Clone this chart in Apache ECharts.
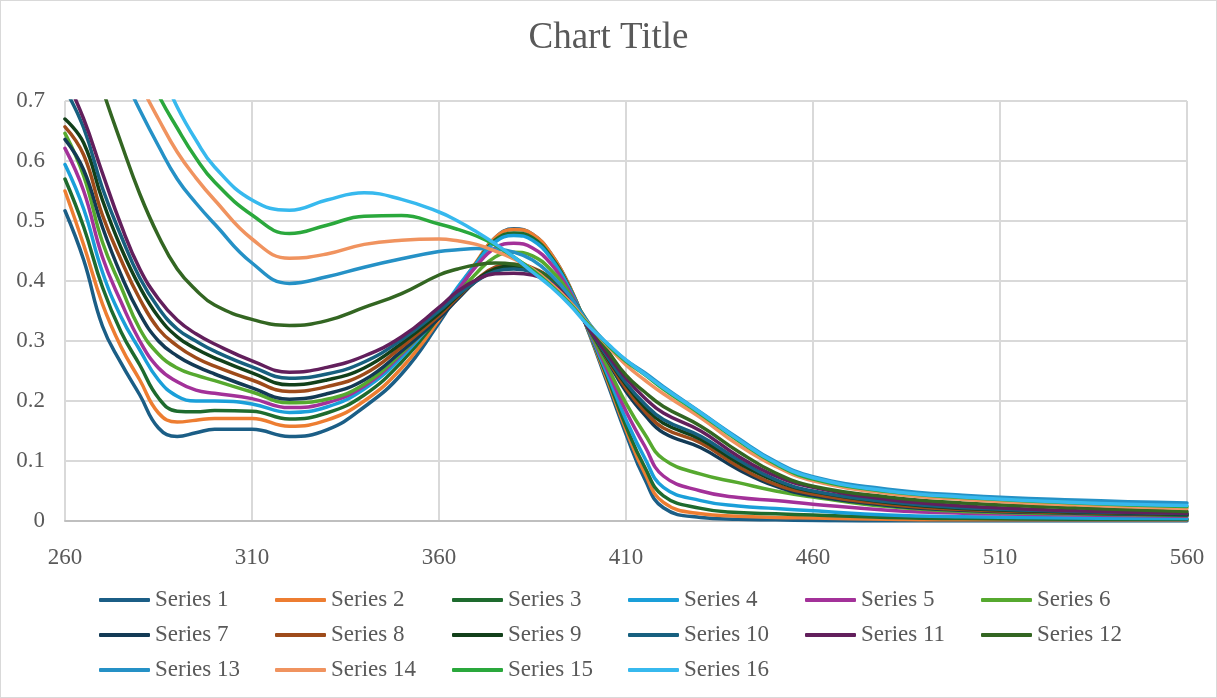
<!DOCTYPE html>
<html>
<head>
<meta charset="utf-8">
<style>
  html, body { margin: 0; padding: 0; background: #fff; }
  #chart { width: 1217px; height: 698px; box-sizing: border-box; border: 1px solid #d9d9d9; }
</style>
<script src="https://cdn.jsdelivr.net/npm/echarts@6/dist/echarts.min.js"></script>
</head>
<body>
<div id="chart"></div>
<script>
var xs = [260, 265, 270, 275, 280, 285, 290, 295, 300, 310, 320,
          330, 340, 350, 360, 365, 370, 375, 380, 385, 390, 395, 400,
          405, 410, 415, 420, 430, 440, 450, 460, 480, 500, 530, 560]

var s1  = [0.517, 0.435, 0.325, 0.263, 0.21, 0.155, 0.141, 0.147, 0.153, 0.153, 0.141,
           0.152, 0.19, 0.245, 0.33, 0.38, 0.43, 0.472, 0.487, 0.478, 0.445, 0.39, 0.315,
           0.23, 0.145, 0.07, 0.022, 0.006, 0.003, 0.002, 0.001, 0, 0, 0, 0]
var s2  = [0.55, 0.46, 0.362, 0.29, 0.235, 0.18, 0.165, 0.168, 0.171, 0.171, 0.158,
           0.168, 0.2, 0.255, 0.335, 0.385, 0.432, 0.472, 0.486, 0.478, 0.445, 0.39, 0.316,
           0.235, 0.152, 0.08, 0.031, 0.012, 0.008, 0.006, 0.005, 0.003, 0.002, 0.002, 0.002]
var s3  = [0.57, 0.49, 0.39, 0.315, 0.26, 0.205, 0.183, 0.182, 0.184, 0.183, 0.17,
           0.18, 0.21, 0.265, 0.34, 0.385, 0.43, 0.468, 0.48, 0.472, 0.44, 0.388, 0.317,
           0.24, 0.158, 0.09, 0.042, 0.021, 0.014, 0.012, 0.01, 0.006, 0.004, 0.003, 0.003]
var s4  = [0.594, 0.52, 0.415, 0.34, 0.285, 0.235, 0.208, 0.2, 0.2, 0.195, 0.181,
           0.19, 0.22, 0.273, 0.345, 0.39, 0.43, 0.465, 0.476, 0.468, 0.437, 0.386, 0.318,
           0.245, 0.169, 0.105, 0.056, 0.034, 0.025, 0.021, 0.017, 0.01, 0.007, 0.005, 0.004]
var s5  = [0.621, 0.55, 0.44, 0.365, 0.3, 0.255, 0.232, 0.218, 0.213, 0.204, 0.189,
           0.197, 0.225, 0.278, 0.345, 0.385, 0.425, 0.455, 0.463, 0.455, 0.428, 0.382, 0.319,
           0.252, 0.183, 0.125, 0.075, 0.05, 0.039, 0.034, 0.028, 0.018, 0.013, 0.01, 0.008]
var s6  = [0.646, 0.575, 0.465, 0.39, 0.32, 0.278, 0.255, 0.243, 0.234, 0.215, 0.197,
           0.203, 0.228, 0.28, 0.342, 0.378, 0.413, 0.44, 0.448, 0.442, 0.418, 0.378, 0.32,
           0.258, 0.196, 0.145, 0.103, 0.078, 0.064, 0.05, 0.04, 0.024, 0.016, 0.012, 0.009]
var s7  = [0.636, 0.585, 0.49, 0.41, 0.345, 0.3, 0.275, 0.258, 0.245, 0.222, 0.203,
           0.212, 0.235, 0.283, 0.338, 0.37, 0.4, 0.42, 0.425, 0.42, 0.402, 0.37, 0.321,
           0.268, 0.216, 0.177, 0.147, 0.122, 0.086, 0.058, 0.042, 0.026, 0.018, 0.013, 0.01]
var s8  = [0.657, 0.61, 0.51, 0.435, 0.37, 0.32, 0.292, 0.272, 0.258, 0.235, 0.216,
           0.224, 0.245, 0.29, 0.342, 0.373, 0.402, 0.423, 0.428, 0.422, 0.403, 0.37, 0.321,
           0.27, 0.221, 0.183, 0.155, 0.13, 0.091, 0.061, 0.045, 0.028, 0.019, 0.014, 0.011]
var s9  = [0.67, 0.63, 0.535, 0.455, 0.39, 0.34, 0.307, 0.287, 0.272, 0.247, 0.227,
           0.235, 0.255, 0.296, 0.346, 0.375, 0.402, 0.42, 0.425, 0.419, 0.401, 0.37, 0.322,
           0.272, 0.227, 0.19, 0.163, 0.136, 0.097, 0.067, 0.049, 0.031, 0.021, 0.015, 0.011]
var s10 = [0.72, 0.655, 0.555, 0.475, 0.405, 0.355, 0.32, 0.3, 0.283, 0.257, 0.238,
           0.245, 0.265, 0.302, 0.35, 0.377, 0.4, 0.416, 0.42, 0.415, 0.399, 0.369, 0.322,
           0.274, 0.23, 0.195, 0.169, 0.141, 0.102, 0.069, 0.05, 0.032, 0.022, 0.016, 0.012]
var s11 = [0.74, 0.67, 0.58, 0.493, 0.42, 0.37, 0.335, 0.312, 0.295, 0.267, 0.248,
           0.256, 0.275, 0.307, 0.356, 0.383, 0.402, 0.412, 0.413, 0.41, 0.396, 0.368, 0.322,
           0.278, 0.238, 0.205, 0.18, 0.15, 0.108, 0.075, 0.056, 0.036, 0.025, 0.017, 0.013]
var s12 = [0.92, 0.82, 0.72, 0.63, 0.545, 0.475, 0.42, 0.385, 0.36, 0.336, 0.326,
           0.334, 0.356, 0.379, 0.41, 0.42, 0.427, 0.43, 0.428, 0.42, 0.405, 0.375, 0.33,
           0.285, 0.243, 0.215, 0.191, 0.158, 0.116, 0.08, 0.058, 0.04, 0.03, 0.022, 0.016]
var s13 = [1.0, 0.9, 0.82, 0.75, 0.685, 0.625, 0.57, 0.53, 0.495, 0.43, 0.396,
           0.407, 0.423, 0.437, 0.449, 0.452, 0.454, 0.453, 0.448, 0.435, 0.41, 0.375, 0.33,
           0.295, 0.268, 0.247, 0.224, 0.181, 0.138, 0.099, 0.074, 0.053, 0.043, 0.035, 0.03]
var s14 = [1.05, 0.95, 0.87, 0.8, 0.73, 0.67, 0.615, 0.572, 0.535, 0.47, 0.438,
           0.445, 0.461, 0.468, 0.47, 0.467, 0.461, 0.45, 0.437, 0.42, 0.395, 0.365, 0.328,
           0.292, 0.26, 0.235, 0.212, 0.172, 0.127, 0.091, 0.067, 0.046, 0.036, 0.027, 0.021]
var s15 = [1.1, 1.0, 0.92, 0.85, 0.78, 0.71, 0.655, 0.605, 0.565, 0.51, 0.479,
           0.493, 0.508, 0.509, 0.495, 0.486, 0.475, 0.46, 0.44, 0.418, 0.392, 0.362, 0.327,
           0.294, 0.266, 0.244, 0.22, 0.178, 0.134, 0.095, 0.07, 0.049, 0.039, 0.03, 0.024]
var s16 = [1.15, 1.05, 0.97, 0.9, 0.83, 0.76, 0.69, 0.635, 0.59, 0.535, 0.518,
           0.535, 0.547, 0.536, 0.515, 0.5, 0.482, 0.462, 0.44, 0.415, 0.39, 0.36, 0.325,
           0.296, 0.268, 0.245, 0.222, 0.18, 0.136, 0.097, 0.072, 0.05, 0.04, 0.031, 0.026]

var seriesValues = [s1, s2, s3, s4, s5, s6, s7, s8, s9, s10, s11, s12, s13, s14, s15, s16]
var seriesNames = seriesValues.map(function(_, i) { return 'Series ' + (i + 1) })

var COLORS = ['#1b5e86', '#ed7d31', '#1e6b2e', '#1a9fd9', '#a33199', '#56a92f',
              '#133a55', '#9e4b1a', '#12401a', '#17607f', '#621f5c', '#336622',
              '#2591c6', '#f0935f', '#2aa83c', '#37b9ee']

var FONT = "'Liberation Serif', 'Times New Roman', serif"
var TEXT = '#595959'

var chart = echarts.init(document.getElementById('chart'), null, { renderer: 'canvas' })

/* ── Legend: 6 columns, 3 rows ──────────────────────────────────────── */
var legendCols = [93, 269, 446, 622, 799, 975]
var legends = legendCols.map(function(x, c) {
  var items = [seriesNames[c], seriesNames[c + 6], seriesNames[c + 12]].filter(Boolean)
  return {
    show: true,
    type: 'plain',
    orient: 'vertical',
    left: x,
    top: 582,
    data: items,
    icon: 'roundRect',
    itemWidth: 51,
    itemHeight: 4,
    itemGap: 11,
    textStyle: { fontFamily: FONT, fontSize: 23, color: TEXT, lineHeight: 24 }
  }
})

var series = seriesValues.map(function(vals, i) {
  return {
    name: seriesNames[i],
    type: 'line',
    data: xs.map(function(x, k) { return [x, vals[k]] }),
    symbol: 'none',
    smooth: 0.45,
    clip: true,
    lineStyle: { width: 3.5, color: COLORS[i], cap: 'round', join: 'round' },
    itemStyle: { color: COLORS[i] },
    emphasis: { disabled: true }
  }
})

chart.setOption({
  backgroundColor: '#ffffff',
  animation: false,
  title: {
    text: 'Chart Title',
    left: 'center',
    top: 14,
    textStyle: { fontFamily: FONT, fontSize: 37, fontWeight: 'normal', color: TEXT }
  },
  legend: legends,
  grid: { left: 64, right: 29, top: 100, bottom: 176, containLabel: false },
  xAxis: {
    type: 'value',
    min: 260,
    max: 560,
    interval: 50,
    axisLine: { show: true, onZero: false, lineStyle: { color: '#bfbfbf', width: 2 } },
    axisTick: { show: false },
    axisLabel: { margin: 25, fontFamily: FONT, fontSize: 23, color: TEXT },
    splitLine: { show: true, lineStyle: { color: '#d9d9d9', width: 2 } }
  },
  yAxis: {
    type: 'value',
    min: 0,
    max: 0.7,
    interval: 0.1,
    axisLine: { show: false },
    axisTick: { show: false },
    axisLabel: { margin: 20, fontFamily: FONT, fontSize: 23, color: TEXT },
    splitLine: { show: true, lineStyle: { color: '#d9d9d9', width: 2 } }
  },
  series: series
})

window.addEventListener('resize', function() { chart.resize() })
</script>
</body>
</html>
